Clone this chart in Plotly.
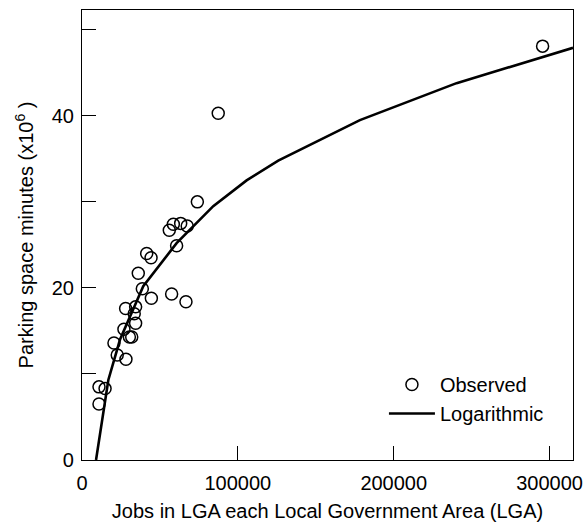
import plotly.graph_objects as go

# observed points (jobs, parking space minutes x10^6)
jobs_observed = [
    10900, 14800, 10900, 20500, 22600, 28200, 26900, 30400, 31900, 34400,
    33500, 34400, 28000, 38700, 44500, 36100, 41500, 44300, 56000, 58600,
    63300, 67500, 60700, 57500, 66700, 74000, 87400, 295500,
]
minutes_observed = [
    8.5, 8.3, 6.5, 13.6, 12.2, 11.7, 15.2, 14.3, 14.3, 15.9,
    17.0, 17.8, 17.6, 19.9, 18.8, 21.7, 24.0, 23.5, 26.7, 27.4,
    27.5, 27.2, 24.9, 19.3, 18.4, 30.0, 40.3, 48.1,
]

# fitted logarithmic curve
jobs_fit = [9000, 16900, 24400, 39300, 60700, 84200, 105600, 125900, 178300, 240300, 315000]
minutes_fit = [0.0, 9.3, 14.0, 20.2, 25.2, 29.5, 32.5, 34.8, 39.5, 43.8, 47.9]

y_tickvals = [0, 10, 20, 30, 40, 50]
y_ticktext = ["0", "", "20", "", "40", ""]
x_tickvals = [0, 100000, 200000, 300000]
x_ticktext = ["0", "100000", "200000", "300000"]

font = "Arial, Liberation Sans, sans-serif"

fig = go.Figure()
fig.add_trace(
    go.Scatter(
        x=jobs_observed, y=minutes_observed, mode="markers", name="Observed",
        marker={"symbol": "circle-open", "size": 12, "color": "black",
                "line": {"width": 1.5, "color": "black"}},
    )
)
fig.add_trace(
    go.Scatter(
        x=jobs_fit, y=minutes_fit, mode="lines", name="Logarithmic",
        line={"color": "black", "width": 2.6},
    )
)

fig.update_layout(
    width=587,
    height=528,
    paper_bgcolor="white",
    plot_bgcolor="white",
    font={"family": font, "size": 20, "color": "black"},
    margin={"l": 82, "r": 14, "t": 10, "b": 68, "autoexpand": False},
    legend={
        "x": 0.951, "y": 0.060, "xanchor": "right", "yanchor": "bottom",
        "bgcolor": "rgba(0,0,0,0)", "borderwidth": 0,
        "font": {"size": 20}, "tracegroupgap": 0, "itemwidth": 46,
    },
)
fig.update_xaxes(
    range=[0, 315000],
    tickvals=x_tickvals, ticktext=x_ticktext,
    ticks="inside", ticklen=14, tickwidth=1, tickcolor="black",
    showline=True, linecolor="black", linewidth=1.2, mirror=True,
    showgrid=False, zeroline=False,
    ticklabelstandoff=5,
    title={"text": "Jobs in LGA each Local Government Area (LGA)",
           "font": {"size": 20}, "standoff": 10},
    automargin=False,
)
fig.update_yaxes(
    range=[0, 52.3],
    tickvals=y_tickvals, ticktext=y_ticktext,
    ticks="inside", ticklen=14, tickwidth=1, tickcolor="black",
    showline=True, linecolor="black", linewidth=1.2, mirror=True,
    showgrid=False, zeroline=False,
    ticklabelstandoff=3,
    title={"text": "Parking space minutes (x10<sup>6</sup> )",
           "font": {"size": 20}, "standoff": 12},
    automargin=False,
)

# drop the default body margin so the figure sits at the page corner
fig.write_html(
    "out.html",
    config={"displayModeBar": False},
    post_script="document.body.style.margin = '0';",
)
